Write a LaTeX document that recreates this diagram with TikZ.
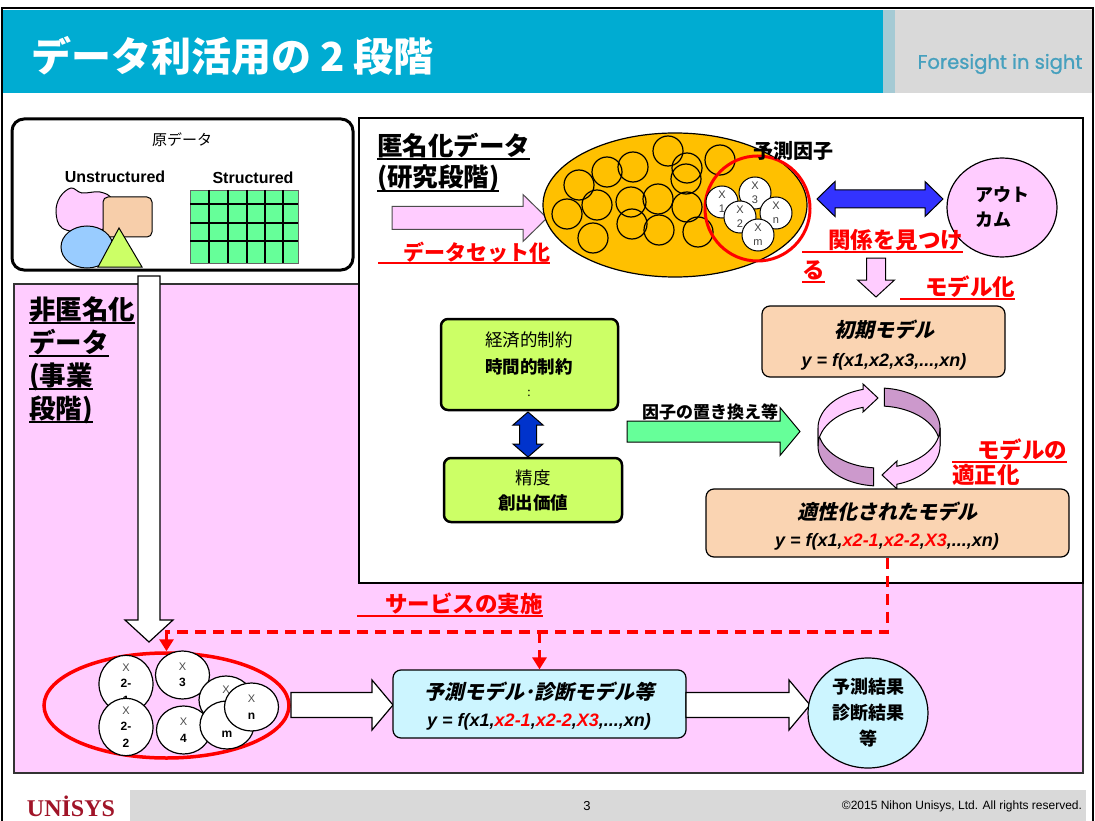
\documentclass[tikz,border=0pt]{standalone}
\usepackage{fontspec}
\setmainfont{Liberation Sans}
\newfontfamily\jp{Noto Sans CJK JP}
\newfontfamily\jpsl{Noto Sans CJK JP}[FakeSlant=0.22]
\newfontfamily\brandfont{Poppins}[FakeBold=1]
\newfontfamily\logofont{Liberation Serif}
\usetikzlibrary{arrows.meta,shapes.geometric,calc}

\definecolor{titlecyan}{RGB}{0,172,210}
\definecolor{panelgray}{RGB}{217,217,217}
\definecolor{stripblue}{RGB}{165,202,212}
\definecolor{brandteal}{RGB}{70,160,190}
\definecolor{bgpink}{RGB}{255,204,255}
\definecolor{peach}{RGB}{250,212,178}
\definecolor{lime}{RGB}{204,255,102}
\definecolor{mint}{RGB}{102,255,153}
\definecolor{gold}{RGB}{255,192,0}
\definecolor{skyfill}{RGB}{204,245,255}
\definecolor{arrowblue}{RGB}{51,51,255}
\definecolor{deepblue}{RGB}{0,51,204}
\definecolor{ringdark}{RGB}{204,153,204}
\definecolor{unisysred}{RGB}{160,20,40}
\definecolor{blobblue}{RGB}{153,204,255}
\definecolor{blobpink}{RGB}{255,204,255}
\definecolor{tan}{RGB}{247,206,170}
\definecolor{trigreen}{RGB}{204,255,102}

\newcommand\fsz[1]{\fontsize{#1}{#1}\selectfont}
% underlined text, optionally with blank underlined lead-in
\newcommand\myul[2][0pt]{\setbox0\hbox{\hspace*{#1}#2}\rlap{\rule[-0.18em]{\wd0}{0.07em}}\box0}

% horizontal block arrow: style, x1, x2, yc, shaft half, head half, head length
\newcommand\hblock[7]{\draw[#1] ({#2},{#4-#5}) -- ({#3-#7},{#4-#5}) -- ({#3-#7},{#4-#6}) -- ({#3},{#4}) -- ({#3-#7},{#4+#6}) -- ({#3-#7},{#4+#5}) -- ({#2},{#4+#5}) -- cycle;}
% downward block arrow: style, y1, y2, xc, shaft half, head half, head length
\newcommand\vblock[7]{\draw[#1] ({#4-#5},{#2}) -- ({#4-#5},{#3-#7}) -- ({#4-#6},{#3-#7}) -- ({#4},{#3}) -- ({#4+#6},{#3-#7}) -- ({#4+#5},{#3-#7}) -- ({#4+#5},{#2}) -- cycle;}
% horizontal double block arrow
\newcommand\hdouble[7]{\draw[#1] ({#2},{#4}) -- ({#2+#7},{#4-#6}) -- ({#2+#7},{#4-#5}) -- ({#3-#7},{#4-#5}) -- ({#3-#7},{#4-#6}) -- ({#3},{#4}) -- ({#3-#7},{#4+#6}) -- ({#3-#7},{#4+#5}) -- ({#2+#7},{#4+#5}) -- ({#2+#7},{#4+#6}) -- cycle;}
% vertical double block arrow: style, y1, y2, xc, shaft half, head half, head length
\newcommand\vdouble[7]{\draw[#1] ({#4},{#2}) -- ({#4+#6},{#2+#7}) -- ({#4+#5},{#2+#7}) -- ({#4+#5},{#3-#7}) -- ({#4+#6},{#3-#7}) -- ({#4},{#3}) -- ({#4-#6},{#3-#7}) -- ({#4-#5},{#3-#7}) -- ({#4-#5},{#2+#7}) -- ({#4-#6},{#2+#7}) -- cycle;}

\begin{document}
\begin{tikzpicture}[x=1pt,y=-1pt,
  lbl/.style={inner sep=0pt,outer sep=0pt},
  redlbl/.style={lbl,anchor=base west,text=red},
  rbox/.style={draw,rounded corners=8pt,line width=1.2pt,inner sep=0pt},
  limebox/.style={draw,fill=lime,rounded corners=7pt,line width=2.5pt,inner sep=0pt},
  xc/.style={circle,draw,fill=white,line width=1pt,minimum size=32pt,inner sep=0pt,align=center,
    text=black!75,font=\fontsize{11}{14}\selectfont},
  bc/.style={ellipse,draw,fill=white,line width=1.2pt,minimum width=54pt,minimum height=48pt,inner sep=0pt,align=center,
    font=\fontsize{12}{16.5}\selectfont},
  reddash/.style={draw=red,line width=3.5pt,dash pattern=on 11pt off 7pt},
  redtip/.style={-{Triangle[width=14pt,length=12pt]}}]
\useasboundingbox (0,0) rectangle (1095,821);

% ---------- header ----------
\fill[titlecyan] (3,10) rectangle (883,93);
\fill[panelgray] (883,10) rectangle (1093,93);
\fill[stripblue] (883,10) rectangle (895,93);
\node[lbl,anchor=base west,text=white] (title) at (31,72) {\fsz{40}\jp\bfseries データ利活用の 2 段階};
\node[lbl,text=brandteal] (tagline) at (1000,64) {\fsz{19.5}\brandfont Foresight in sight};

% ---------- footer ----------
\fill[panelgray] (130,790) rectangle (1086,821);
\node[lbl,text=unisysred] (logo) at (71,806) {\fsz{24}\logofont\bfseries UNİSYS};
\node[lbl] (page) at (587,806) {\fsz{13}3};
\node[lbl,anchor=east] (copyright) at (1082,806) {\fsz{12}©2015 Nihon Unisys, Ltd. All rights reserved.};

% ---------- frame ----------
\draw[line width=2.5pt] (2,830) -- (2,8) -- (1093,8) -- (1093,830);

% ---------- business-stage zone ----------
\draw[fill=bgpink,draw=black!80,line width=1.2pt] (14,284) rectangle (1083,773);
% research-stage panel
\draw[fill=white,line width=1.2pt] (359,118) rectangle (1083,583);

% ---------- raw data ----------
\node[draw,line width=3pt,rounded corners=12pt,fill=white,minimum width=341pt,minimum height=151pt] (raw) at (182.5,194.5) {};
\node[lbl] (rawlbl) at (182,140) {\fsz{15}\jp 原データ};
\node[lbl] (unst) at (115,177) {\fsz{16}\bfseries Unstructured};
\node[lbl] (st) at (253,178) {\fsz{16}\bfseries Structured};
\filldraw[fill=blobpink,line width=1pt] plot[smooth cycle,tension=0.6] coordinates {(71,188) (82,193) (100,192) (112,200) (110,225) (85,232) (62,228) (56,212) (60,197)};
\filldraw[fill=tan,line width=1pt,rounded corners=5pt] (103,197) rectangle (152,237);
\filldraw[fill=blobblue,line width=1pt] (87,247) ellipse [x radius=26,y radius=21];
\filldraw[fill=trigreen,line width=1pt] (98,267) -- (119,228) -- (142,267) -- cycle;
\filldraw[fill=mint,draw=black!60,line width=0.8pt] (190,190) rectangle (298,263);
\foreach \gx in {209,228,247,265,283} \draw[line width=2.5pt] (\gx,190) -- (\gx,263);
\foreach \gy in {204,223,241} \draw[line width=2.5pt] (190,\gy) -- (298,\gy);

% ---------- non-anonymised data flow ----------
\vblock{draw=black,fill=white,line width=1.2pt}{276}{642}{149}{11}{24}{22}
\node[lbl,anchor=base west] (na1) at (29,319) {\fsz{26.5}\jp\bfseries\myul{非匿名化}};
\node[lbl,anchor=base west] (na2) at (29,352) {\fsz{26.5}\jp\bfseries\myul{データ}};
\node[lbl,anchor=base west] (na3) at (29,385) {\fsz{26.5}\jp\bfseries\myul{(事業}};
\node[lbl,anchor=base west] (na4) at (29,418) {\fsz{26.5}\jp\bfseries\myul{段階)}};

% ---------- anonymised data ----------
\node[lbl,anchor=base west] (an1) at (377,155.5) {\fsz{25.5}\jp\bfseries\myul{匿名化データ}};
\node[lbl,anchor=base west] (an2) at (377,187) {\fsz{25.5}\jp\bfseries\myul{(研究段階)}};
\hblock{fill=bgpink,draw=black!70,line width=1pt}{392}{547}{218}{11.5}{23.5}{24}
\node[redlbl] (dataset) at (378,260) {\fsz{21}\jp\bfseries\myul[25pt]{データセット化}};

\node[ellipse,draw,fill=gold,line width=1.2pt,minimum width=264pt,minimum height=144pt,inner sep=0pt] (pool) at (675,205) {};
\foreach \cx/\cy in {668/151,607/172,633/167,687/168,686/179,720/160,579/185,597/205,567/214,631/202,658/199,687/207,593/238,632/224,659/230,698/232}
  \draw[line width=1.2pt] (\cx,\cy) circle [radius=15];
\node[circle,draw=red,line width=3pt,minimum size=105pt,inner sep=0pt] (factors) at (757.5,208.5) {};
\node[xc] (x1) at (722,202) {X\\1};
\node[xc] (x3) at (755,193) {X\\3};
\node[xc] (xn) at (776,213) {X\\n};
\node[xc] (x2) at (740,217) {X\\2};
\node[xc] (xm) at (758,235) {X\\m};
\node[lbl] (factorlbl) at (793,151) {\fsz{20}\jp\bfseries 予測因子};

\hdouble{fill=arrowblue,draw=black,line width=1pt}{817}{943}{199}{9}{17.5}{18}
\node[ellipse,draw,fill=bgpink,line width=1.2pt,minimum width=110pt,minimum height=99pt,inner sep=0pt,align=left,
  font=\fontsize{18}{25}\selectfont\jp\bfseries] (outcome) at (1002,207.5) {アウト\\カム};

\node[redlbl] (found) at (802,248.5) {\fsz{22.5}\jp\bfseries\myul[26pt]{関係を見つけ}};
\node[redlbl] (found2) at (802,278.5) {\fsz{22.5}\jp\bfseries\myul{る}};
\vblock{fill=bgpink,draw=black,line width=1pt}{258}{297}{876}{9.5}{18.5}{17}
\node[redlbl] (modeling) at (900,295.5) {\fsz{22.5}\jp\bfseries\myul[25pt]{モデル化}};

% initial model
\node[rbox,fill=peach,minimum width=243pt,minimum height=71pt] (init) at (883.5,341.5) {};
\node[lbl] (inittitle) at (884,330) {\fsz{20}\jpsl\bfseries 初期モデル};
\node[lbl] (initf) at (884,362) {\fsz{18}\bfseries\itshape y = f(x1,x2,x3,...,xn)};

% constraints
\node[limebox,minimum width=177pt,minimum height=91pt] (econ) at (529.5,364.5) {};
\node[lbl] (econ1) at (529,340) {\fsz{17.5}\jp 経済的制約};
\node[lbl] (econ2) at (529,367) {\fsz{17.5}\jp\bfseries 時間的制約};
\node[lbl] (econ3) at (529,393) {\fsz{12}\jp :};
\node[limebox,minimum width=178pt,minimum height=64pt] (acc) at (533,490) {};
\node[lbl] (acc1) at (533,478) {\fsz{17.5}\jp 精度};
\node[lbl] (acc2) at (533,503) {\fsz{17.5}\jp\bfseries 創出価値};
\vdouble{fill=deepblue,draw=black,line width=1pt}{412}{457}{528}{8.5}{15}{13}

% factor replacement
\hblock{fill=mint,draw=black,line width=1pt}{627}{800}{431.5}{10.5}{24}{20}
\node[lbl,anchor=base west] (swap) at (642,418) {\fsz{17}\jp\bfseries 因子の置き換え等};

% refinement cycle
\filldraw[fill=ringdark,draw=black,line width=1pt]
  plot[domain=85:0,samples=40] ({879+61*cos(\x)},{428-40*sin(\x)}) --
  plot[domain=0:85,samples=40] ({879+61*cos(\x)},{446-40*sin(\x)}) -- cycle;
\filldraw[fill=ringdark,draw=black,line width=1pt]
  plot[domain=180:265,samples=40] ({879+61*cos(\x)},{428-40*sin(\x)}) --
  plot[domain=265:180,samples=40] ({879+61*cos(\x)},{446-40*sin(\x)}) -- cycle;
\filldraw[fill=bgpink,draw=black,line width=1pt]
  plot[domain=180:105,samples=40] ({879+61*cos(\x)},{428-40*sin(\x)}) --
  (863,384) -- (878,398) -- (863,412) --
  plot[domain=105:180,samples=40] ({879+61*cos(\x)},{446-40*sin(\x)}) -- cycle;
\filldraw[fill=bgpink,draw=black,line width=1pt]
  plot[domain=0:-73,samples=40] ({879+61*cos(\x)},{428-40*sin(\x)}) --
  (897,461) -- (882,475) -- (897,489) --
  plot[domain=-73:0,samples=40] ({879+61*cos(\x)},{446-40*sin(\x)}) -- cycle;
\node[redlbl] (tune1) at (952,458.5) {\fsz{22.5}\jp\bfseries\myul[25pt]{モデルの}};

% adapted model
\node[rbox,fill=peach,minimum width=363pt,minimum height=68pt] (adapt) at (887.5,523) {};
\node[redlbl] (tune2) at (952,483.5) {\fsz{22.5}\jp\bfseries 適正化};
\node[lbl] (adapttitle) at (887,512) {\fsz{20}\jpsl\bfseries 適性化されたモデル};
\node[lbl] (adaptf) at (887,542) {\fsz{18}\bfseries\itshape y = f(x1,\textcolor{red}{x2-1},\textcolor{red}{x2-2},\textcolor{red}{X3},...,xn)};

% ---------- deployment ----------
\node[redlbl] (service) at (357,612.5) {\fsz{22.5}\jp\bfseries\myul[28pt]{サービスの実施}};

\node[ellipse,draw=red,line width=3.5pt,minimum width=245pt,minimum height=105pt,inner sep=0pt] (deploy) at (166.5,705.5) {};
\node[bc] (b21) at (126,684) {{\color{black!70}\fsz{11}X}\\\textbf{2-}\\\textbf{1}};
\node[bc] (b3) at (182.5,675) {{\color{black!70}\fsz{11}X}\\\textbf{3}};
\node[bc] (bh) at (226,700) {};
\node[lbl,text=black!70] (bhx) at (226,690) {\fsz{11}X};
\node[bc] (b22) at (126,727) {{\color{black!70}\fsz{11}X}\\\textbf{2-}\\\textbf{2}};
\node[bc] (b4) at (183.5,730) {{\color{black!70}\fsz{11}X}\\\textbf{4}};
\node[bc] (bm) at (227,725) {};
\node[lbl] (bmm) at (227,734) {\fsz{12}\bfseries m};
\node[bc] (bn) at (251.5,707) {{\color{black!70}\fsz{11}X}\\\textbf{n}};

\hblock{fill=white,draw=black,line width=1.2pt}{291}{393}{705}{12.5}{25}{21}
\node[rbox,fill=skyfill,minimum width=293pt,minimum height=68pt] (svc) at (539.5,704) {};
\node[lbl] (svctitle) at (539,692) {\fsz{20}\jpsl\bfseries 予測モデル･診断モデル等};
\node[lbl] (svcf) at (539,722) {\fsz{18}\bfseries\itshape y = f(x1,\textcolor{red}{x2-1},\textcolor{red}{x2-2},\textcolor{red}{X3},...,xn)};
\hblock{fill=white,draw=black,line width=1.2pt}{686}{810}{705}{12.5}{25}{21}
\node[ellipse,draw,fill=skyfill,line width=1.2pt,minimum width=120pt,minimum height=110pt,inner sep=0pt,align=center,
  font=\fontsize{18}{26}\selectfont\jp\bfseries] (result) at (868,713) {予測結果\\診断結果\\等};

% service rollout path
\coordinate (junc) at (887.5,632);
\draw[reddash,redtip] (adapt.south) -- (adapt.south |- junc) -| (deploy.north);
\draw[reddash,redtip] (svc.north |- junc) -- (svc.north);
\end{tikzpicture}
\end{document}
